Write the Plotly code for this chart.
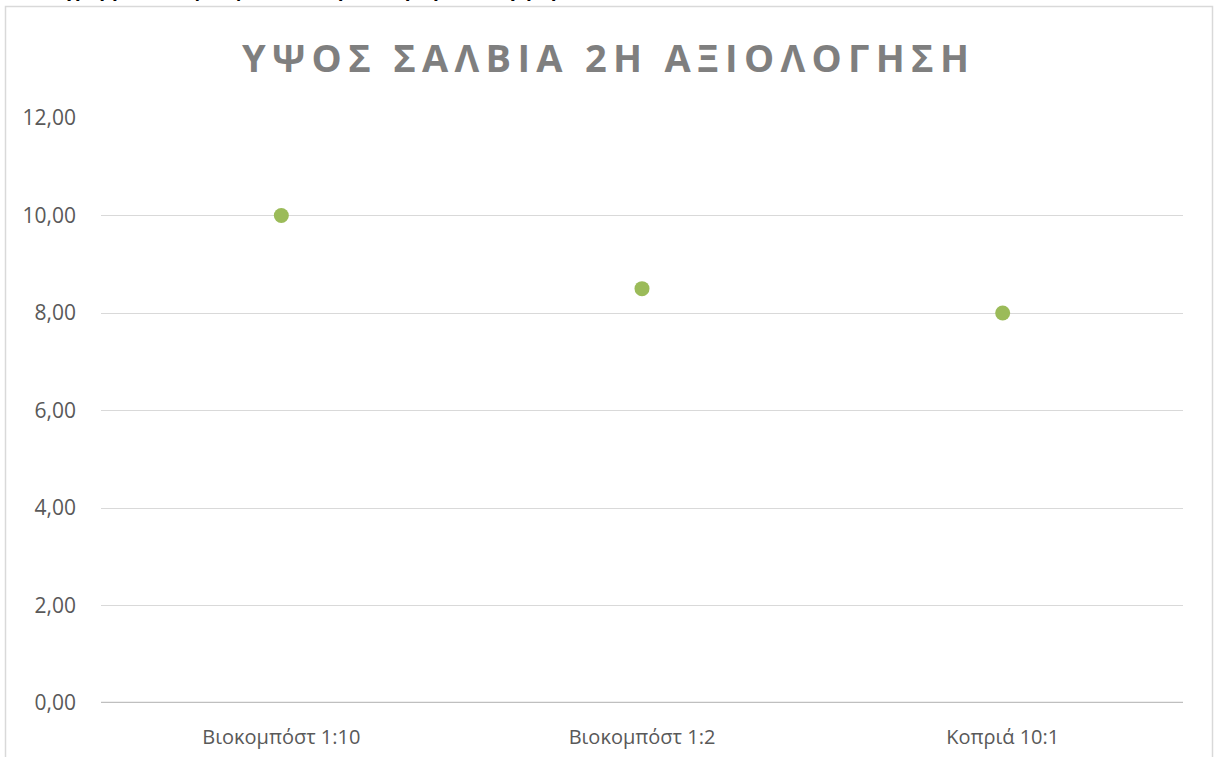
import plotly.graph_objects as go

# Data
categories = ["Βιοκομπόστ 1:10", "Βιοκομπόστ 1:2", "Κοπριά 10:1"]
heights = [10.0, 8.5, 8.0]
y_ticks = [0, 2, 4, 6, 8, 10, 12]

title_text = "ΥΨΟΣ ΣΑΛΒΙΑ 2Η ΑΞΙΟΛΟΓΗΣΗ"
caption_text = "Διάγραμμα 51: Ύψος φυτών σάλβια στη 2η αξιολόγηση"

W, H = 1220, 757
ML, MR, MT, MB = 101, 37, 118, 54
pw, ph = W - ML - MR, H - MT - MB


def px_x(x):
    return (x - ML) / pw


def px_y(y):
    return (H - MB - y) / ph


# widen the title letters with thin spaces
spaced_title = "\u2009".join(list(title_text))

fig = go.Figure()
fig.add_trace(go.Scatter(
    x=categories, y=heights, mode="markers",
    marker=dict(size=15, color="#9bbb59", line=dict(width=0)),
    hoverinfo="x+y", showlegend=False,
))

fig.update_layout(
    width=W, height=H,
    margin=dict(l=ML, r=MR, t=MT, b=MB, autoexpand=False),
    paper_bgcolor="white", plot_bgcolor="white",
    separators=",.",
    font=dict(family="Open Sans, Noto Sans, sans-serif", color="#595959", size=21),
    xaxis=dict(
        type="category", range=[-0.5, 2.5], automargin=False,
        showgrid=False, zeroline=False,
        showline=False, ticks="",
        tickfont=dict(size=20, color="#595959"),
        ticklabelstandoff=20,
    ),
    yaxis=dict(
        range=[0, 12], tickvals=y_ticks, tickformat=".2f", automargin=False,
        showgrid=True, gridcolor="#d9d9d9", gridwidth=1,
        zeroline=False, showline=False, ticks="",
        tickfont=dict(size=21, color="#595959"),
        ticklabelstandoff=24,
    ),
    shapes=[
        # chart border
        dict(type="rect", xref="paper", yref="paper",
             x0=px_x(5.5), x1=px_x(1212.5), y0=px_y(780), y1=px_y(6.5),
             line=dict(color="#d9d9d9", width=1.5), fillcolor="rgba(0,0,0,0)",
             layer="below"),
        # category axis line
        dict(type="line", xref="paper", yref="y",
             x0=0, x1=1, y0=0, y1=0,
             line=dict(color="#bfbfbf", width=2.5)),
    ],
    annotations=[
        dict(text="<b>" + spaced_title + "</b>", xref="paper", yref="paper",
             x=px_x(605), y=px_y(57), xanchor="center", yanchor="middle",
             showarrow=False, font=dict(size=38, color="#7f7f7f",
                                        family="Open Sans, Noto Sans, sans-serif")),
        dict(text="<b>" + caption_text + "</b>", xref="paper", yref="paper",
             x=px_x(30), y=px_y(-11), xanchor="left", yanchor="middle",
             showarrow=False, font=dict(size=19, color="black",
                                        family="Open Sans, Noto Sans, sans-serif")),
    ],
)

fig.write_html("out.html")
